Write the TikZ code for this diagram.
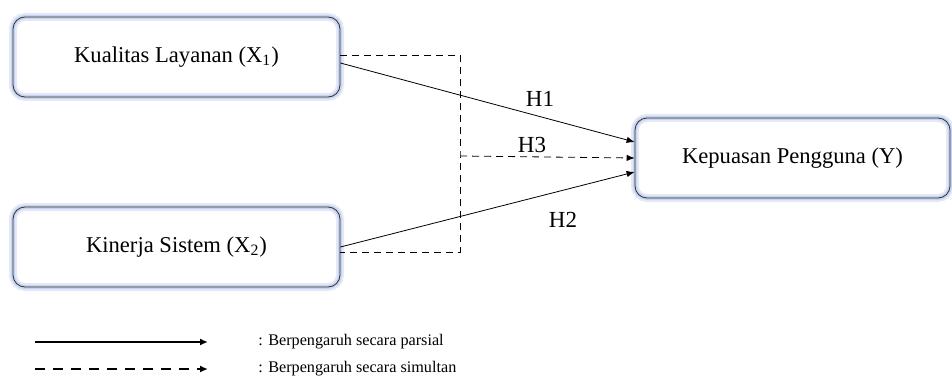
\documentclass[tikz,border=0pt]{standalone}
\usepackage{fontspec}
\setmainfont{Liberation Serif}
\usetikzlibrary{calc, positioning, arrows.meta}

\begin{document}
\begin{tikzpicture}[x=0.5pt, y=-0.5pt,
  var/.style = {draw = black!80, line width = 0.4pt, rounded corners = 6pt,
    minimum width = 163.5pt, minimum height = 40pt,
    font = \fontsize{11.3}{13}\selectfont,
    preaction = {draw = cyan!40!blue!10, line width = 4pt},
    preaction = {draw = cyan!50!blue!22, line width = 2pt}},
  hyp/.style = {font = \fontsize{11.5}{13}\selectfont, inner sep = 0pt},
  arr/.style = {-{Latex[length = 4pt, width = 3.2pt]}, line width = 0.4pt},
  key/.style = {font = \fontsize{8.1}{10}\selectfont, anchor = west, inner sep = 0pt}]
\useasboundingbox (0,0) rectangle (952,385);
\node[var] (x1) at (176.5,57) {Kualitas Layanan (X\textsubscript{1})};
\node[var] (x2) at (176.5,247) {Kinerja Sistem (X\textsubscript{2})};
\node[var, minimum width = 157.5pt] (y) at (792.5,158) {Kepuasan Pengguna (Y)};
\coordinate (j) at (460,156);
% simultan
\draw[dashed, line width = 0.4pt, dash pattern = on 3.5pt off 2.5pt] ([yshift=1pt]x1.east) -| (j) |- ([yshift=-2.5pt]x2.east);
\draw[arr, dash pattern = on 3.5pt off 2.5pt] (j) -- (y.west);
% parsial
\draw[arr] ([yshift=-3pt]x1.east) -- ([yshift=8pt]y.west);
\draw[arr] (x2.east) -- ([yshift=-7pt]y.west);
\node[hyp] (h1) at (540,99) {H1};
\node[hyp] (h3) at (532,145) {H3};
\node[hyp] (h2) at (563,220) {H2};
% keterangan
\coordinate (a1) at (35,342);
\coordinate (b1) at (208,342);
\coordinate (a2) at (35,369);
\coordinate (b2) at (208,369);
\draw[-{Latex[length = 4pt, width = 3.5pt]}, line width = 1pt] (a1) -- (b1);
\draw[-{Latex[length = 4pt, width = 3.5pt]}, line width = 1pt, dash pattern = on 5pt off 4pt] (a2) -- (b2);
\node[key] (k1) at (258,342) {: Berpengaruh secara parsial};
\node[key] (k2) at (258,369) {: Berpengaruh secara simultan};
\end{tikzpicture}
\end{document}
